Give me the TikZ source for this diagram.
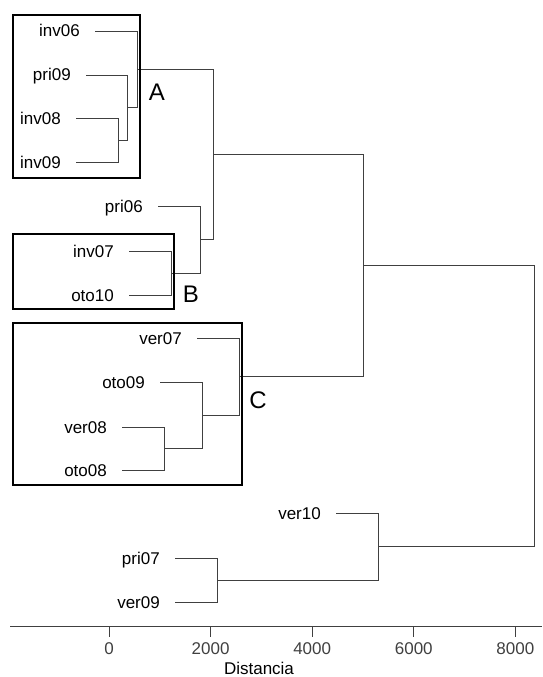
\documentclass[tikz,border=0pt]{standalone}
\usepackage{fontspec}
\setmainfont{Liberation Sans}
\usetikzlibrary{positioning}

\tikzset{
  leaf/.style = {inner sep=0pt, text height=12pt, text depth=0pt, font=\fontsize{17}{20}\selectfont},
  branch/.style = {line width=0.9pt, black!75},
  groupbox/.style = {line width=2.2pt},
  grouplab/.style = {inner sep=0pt, font=\fontsize{24}{28}\selectfont}
}

\begin{document}
\begin{tikzpicture}[x=1pt, y=-1pt]
\useasboundingbox (0,0) rectangle (542,677);

\coordinate (inv06) at (95,31);
\coordinate (pri09) at (86,75);
\coordinate (inv08) at (76,118);
\coordinate (inv09) at (76,162);
\coordinate (pri06) at (158,206);
\coordinate (inv07) at (129,251);
\coordinate (oto10) at (129,295);
\coordinate (ver07) at (197,338);
\coordinate (oto09) at (160,382);
\coordinate (ver08) at (122,427);
\coordinate (oto08) at (122,470);
\coordinate (ver10) at (336,513);
\coordinate (pri07) at (175,558);
\coordinate (ver09) at (175,602);

\coordinate (m1) at (118,140);
\coordinate (m2) at (127,107.5);
\coordinate (m3) at (137,69);
\coordinate (m4) at (171,273);
\coordinate (m5) at (200,239.5);
\coordinate (m6) at (213,154);
\coordinate (m7) at (164,448.5);
\coordinate (m8) at (202,415);
\coordinate (m9) at (239,376.5);
\coordinate (m10) at (363,265);
\coordinate (m11) at (217,580);
\coordinate (m12) at (378,546.5);
\coordinate (m13) at (534,406);

\foreach \a/\b in {inv08/m1,inv09/m1,pri09/m2,m1/m2,inv06/m3,m2/m3,inv07/m4,oto10/m4,pri06/m5,m4/m5,m3/m6,m5/m6,ver08/m7,oto08/m7,oto09/m8,m7/m8,ver07/m9,m8/m9,m6/m10,m9/m10,pri07/m11,ver09/m11,ver10/m12,m11/m12,m10/m13,m12/m13}
{\draw[branch] (\a) -| (\b);}

\foreach \n in {inv06,pri09,inv08,inv09,pri06,inv07,oto10,ver07,oto09,ver08,oto08,ver10,pri07,ver09}
{\node[leaf, left=15pt of \n] (\n-lab) {\n};}

\draw[groupbox] (13,15) rectangle (140,178);
\draw[groupbox] (13,234) rectangle (174,309);
\draw[groupbox] (13,323) rectangle (242,485);
\node[grouplab] (labA) at (157,92) {A};
\node[grouplab] (labB) at (191,294) {B};
\node[grouplab] (labC) at (258,400) {C};

\coordinate (axL) at (10,626);
\coordinate (axR) at (542,626);
\draw[branch] (axL) -- (axR);
\foreach \v in {0,2000,4000,6000,8000}
{\coordinate (tk\v) at (109+\v*0.0508,626);
 \draw[branch] (tk\v) -- ++(0,11) node[leaf, below=5pt] (tl\v) {\v};}
\node[leaf, anchor=base] (xlab) at (259,674.5) {Distancia};

\end{tikzpicture}
\end{document}
